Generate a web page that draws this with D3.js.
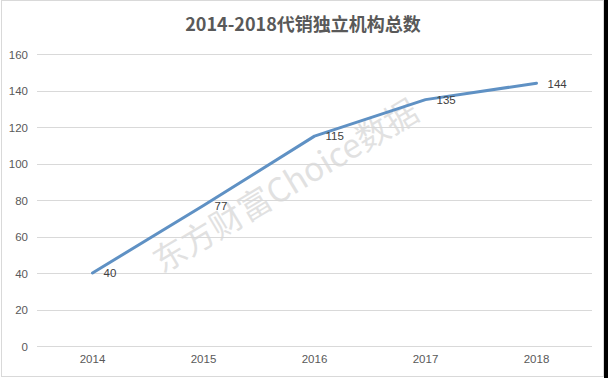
<!DOCTYPE html>
<html><head><meta charset="utf-8">
<script src="https://cdn.jsdelivr.net/npm/d3@7"></script>
<style>body{margin:0;background:#fff;}svg{display:block;}</style>
</head><body>
<script>
const categories = ["2014","2015","2016","2017","2018"];
const values = [40, 77, 115, 135, 144];
const yTicks = [0,20,40,60,80,100,120,140,160];
const titleText = "2014-2018代销独立机构总数";
const watermarkText = "东方财富Choice数据";

const W = 608, H = 378;
const svg = d3.select("body").append("svg").attr("width", W).attr("height", H);
svg.append("rect").attr("width", W).attr("height", H).attr("fill", "#fff");

const plotLeft = 37, plotRight = 592, plotTop = 54, plotBottom = 346;
const x = d3.scaleBand().domain(categories).range([plotLeft, plotRight]);
const y = d3.scaleLinear().domain([0,160]).range([plotBottom, plotTop]);
const cx = d => x(d) + x.bandwidth()/2;

// gridlines
svg.append("g").selectAll("line").data(yTicks).join("line")
  .attr("x1", plotLeft).attr("x2", plotRight)
  .attr("y1", d => Math.round(y(d))+0.5).attr("y2", d => Math.round(y(d))+0.5)
  .attr("stroke", "#d9d9d9").attr("stroke-width", 1);

// y axis labels
const yAxis = d3.axisLeft(y).tickValues(yTicks).tickSize(0).tickPadding(0);
const gy = svg.append("g").attr("transform", `translate(28,0)`).call(yAxis);
gy.select(".domain").remove();
gy.selectAll("text").attr("font-family", "'Liberation Sans', Arial, sans-serif")
  .attr("font-size", 11.5).attr("fill", "#595959").attr("dy", "0.35em");

// x axis labels
const xAxis = d3.axisBottom(x).tickSize(0).tickPadding(0);
const gx = svg.append("g").attr("transform", `translate(0,359)`).call(xAxis);
gx.select(".domain").remove();
gx.selectAll("text").attr("font-family", "'Liberation Sans', Arial, sans-serif")
  .attr("font-size", 11.5).attr("fill", "#595959").attr("dy", "0.35em");

// watermark
svg.append("text").text(watermarkText)
  .attr("transform", "translate(162,274) rotate(-31)")
  .attr("font-family", "'Noto Sans CJK SC', sans-serif")
  .attr("font-size", 33).attr("fill", "#d8d8d8").attr("fill-opacity", 0.75);

// line
const line = d3.line().x((d,i) => cx(categories[i])).y(d => y(d));
svg.append("path").datum(values).attr("d", line)
  .attr("fill", "none").attr("stroke", "#5f91c4").attr("stroke-width", 3)
  .attr("stroke-linejoin", "round").attr("stroke-linecap", "round");

// data labels
svg.append("g").selectAll("text").data(values).join("text")
  .attr("x", (d,i) => cx(categories[i]) + 11)
  .attr("y", d => y(d)).attr("dy", "0.38em")
  .attr("font-family", "'Liberation Sans', Arial, sans-serif")
  .attr("font-size", 11.5).attr("fill", "#404040").text(d => d);

// title
svg.append("text").text(titleText).attr("x", 303).attr("y", 31)
  .attr("text-anchor", "middle")
  .attr("font-family", "'Noto Sans CJK SC', sans-serif").attr("font-weight", "bold")
  .attr("font-size", 18).attr("fill", "#595959");

// frame
svg.append("rect").attr("x", 1.5).attr("y", 0.5).attr("width", 602).attr("height", 376)
  .attr("fill", "none").attr("stroke", "#d9d9d9");
svg.append("rect").attr("x", 604).attr("y", 0).attr("width", 4).attr("height", H).attr("fill", "#000");
</script>
</body></html>
